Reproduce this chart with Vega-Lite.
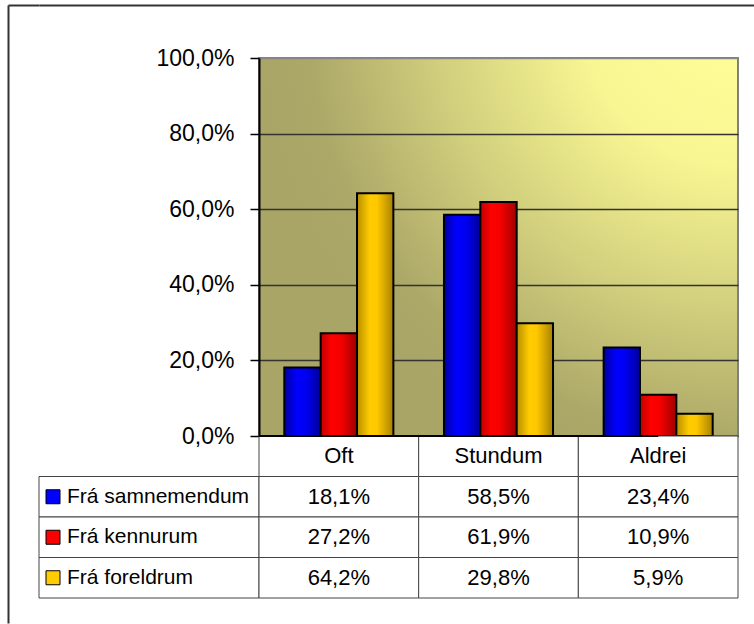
{
  "$schema": "https://vega.github.io/schema/vega-lite/v6.json",
  "background": "white",
  "padding": {"left": 5, "top": 5, "right": 0, "bottom": 0},
  "config": {
    "font": "Liberation Sans, Arial",
    "view": {"stroke": null},
    "locale": {"number": {"decimal": ",", "thousands": ".", "grouping": [3], "currency": ["", " kr."]}}
  },
  "datasets": {
    "d": [
      {"cat": "Oft", "series": "Frá samnemendum", "value": 0.181},
      {"cat": "Oft", "series": "Frá kennurum", "value": 0.272},
      {"cat": "Oft", "series": "Frá foreldrum", "value": 0.642},
      {"cat": "Stundum", "series": "Frá samnemendum", "value": 0.585},
      {"cat": "Stundum", "series": "Frá kennurum", "value": 0.619},
      {"cat": "Stundum", "series": "Frá foreldrum", "value": 0.298},
      {"cat": "Aldrei", "series": "Frá samnemendum", "value": 0.234},
      {"cat": "Aldrei", "series": "Frá kennurum", "value": 0.109},
      {"cat": "Aldrei", "series": "Frá foreldrum", "value": 0.059}
    ],
    "frame": [{"k": 0}]
  },
  "spacing": 0,
  "bounds": "flush",
  "hconcat": [
    {
      "width": 31,
      "height": 618,
      "data": {"name": "frame"},
      "mark": {"type": "point", "opacity": 0},
      "encoding": {
        "x": {"field": "k", "type": "quantitative", "scale": {"domain": [0, 1]},
          "axis": {"orient": "top", "title": null, "labels": false, "ticks": false, "grid": false, "domainColor": "#333333", "domainWidth": 2}},
        "y": {"field": "k", "type": "quantitative", "scale": {"domain": [0, 1]},
          "axis": {"title": null, "labels": false, "ticks": false, "grid": false, "domainColor": "#333333", "domainWidth": 2}}
      }
    },
    {
      "spacing": 0,
      "bounds": "flush",
      "vconcat": [
        {
          "width": 716,
          "height": 53,
          "data": {"name": "frame"},
          "mark": {"type": "point", "opacity": 0},
          "encoding": {
            "x": {"field": "k", "type": "quantitative", "scale": {"domain": [0, 1]},
              "axis": {"orient": "top", "title": null, "labels": false, "ticks": false, "grid": false, "domainColor": "#333333", "domainWidth": 2}}
          }
        },
        {
          "columns": 2,
          "spacing": 0,
          "bounds": "flush",
          "concat": [
            {
              "width": 220,
              "height": 378,
              "data": {"name": "frame"},
              "mark": {"type": "rect", "fill": "white", "opacity": 0}
            },
            {
              "width": 479,
              "height": 378,
              "data": {"name": "d"},
              "view": {
                "stroke": "#808080",
                "strokeWidth": 2,
                "fill": {
                  "gradient": "radial",
                  "x1": 1, "y1": 0, "r1": 0,
                  "x2": 1, "y2": 0, "r2": 1,
                  "stops": [
                    {"offset": 0, "color": "#FFFF99"},
                    {"offset": 0.33, "color": "#F8F692"},
                    {"offset": 0.62, "color": "#D3D07E"},
                    {"offset": 0.9, "color": "#ACA868"},
                    {"offset": 1, "color": "#A9A566"}
                  ]
                }
              },
              "encoding": {
                "x": {
                  "field": "cat", "type": "nominal",
                  "sort": ["Oft", "Stundum", "Aldrei"],
                  "scale": {"paddingInner": 0.317, "paddingOuter": 0.1585},
                  "axis": null
                },
                "xOffset": {
                  "field": "series", "type": "nominal",
                  "scale": {"domain": ["Frá samnemendum", "Frá kennurum", "Frá foreldrum"], "paddingInner": 0, "paddingOuter": 0}
                },
                "y": {
                  "field": "value", "type": "quantitative",
                  "scale": {"domain": [0, 1], "nice": false},
                  "axis": {
                    "title": null,
                    "values": [0, 0.2, 0.4, 0.6, 0.8, 1],
                    "format": ".1%",
                    "labelFontSize": 23,
                    "labelColor": "#000",
                    "labelPadding": 16,
                    "tickSize": 9,
                    "tickColor": "#000",
                    "tickWidth": 1.5,
                    "domainColor": "#000",
                    "domainWidth": 2,
                    "gridColor": {"condition": {"test": "datum.value == 1", "value": "#888888"}, "value": "#333333"},
                    "gridWidth": 1.5
                  }
                }
              },
              "layer": [
                {
                  "transform": [{"filter": "datum.series == 'Frá samnemendum'"}],
                  "mark": {
                    "type": "bar", "stroke": "#000", "strokeWidth": 2,
                    "fill": {"gradient": "linear", "x1": 0, "y1": 0, "x2": 1, "y2": 0,
                      "stops": [{"offset": 0, "color": "#0000A0"}, {"offset": 0.35, "color": "#0000FF"}, {"offset": 0.6, "color": "#0000F0"}, {"offset": 1, "color": "#00009A"}]}
                  }
                },
                {
                  "transform": [{"filter": "datum.series == 'Frá kennurum'"}],
                  "mark": {
                    "type": "bar", "stroke": "#000", "strokeWidth": 2,
                    "fill": {"gradient": "linear", "x1": 0, "y1": 0, "x2": 1, "y2": 0,
                      "stops": [{"offset": 0, "color": "#C00000"}, {"offset": 0.3, "color": "#FF0000"}, {"offset": 0.55, "color": "#F50000"}, {"offset": 1, "color": "#A00000"}]}
                  }
                },
                {
                  "transform": [{"filter": "datum.series == 'Frá foreldrum'"}],
                  "mark": {
                    "type": "bar", "stroke": "#000", "strokeWidth": 2,
                    "fill": {"gradient": "linear", "x1": 0, "y1": 0, "x2": 1, "y2": 0,
                      "stops": [{"offset": 0, "color": "#B88E00"}, {"offset": 0.35, "color": "#FFCC00"}, {"offset": 0.55, "color": "#FFC800"}, {"offset": 1, "color": "#A88200"}]}
                  }
                }
              ]
            },
            {
              "width": 220,
              "height": 162,
              "data": {"name": "d"},
              "transform": [{"filter": "datum.cat == 'Oft'"}],
              "encoding": {
                "y": {
                  "field": "series", "type": "nominal",
                  "scale": {"domain": ["hdr", "Frá samnemendum", "Frá kennurum", "Frá foreldrum"], "paddingInner": 0, "paddingOuter": 0},
                  "axis": null
                }
              },
              "layer": [
                {"mark": {"type": "rect", "fill": "white", "stroke": "#444444", "strokeWidth": 1}},
                {
                  "mark": {"type": "square", "size": 196, "filled": true, "opacity": 1, "stroke": "#000", "strokeWidth": 1},
                  "encoding": {
                    "x": {"value": 14},
                    "fill": {
                      "field": "series", "type": "nominal",
                      "scale": {"domain": ["Frá samnemendum", "Frá kennurum", "Frá foreldrum"], "range": ["#0000FF", "#FF0000", "#FFCC00"]},
                      "legend": null
                    }
                  }
                },
                {
                  "mark": {"type": "text", "align": "left", "fontSize": 21, "color": "#000"},
                  "encoding": {"x": {"value": 28}, "text": {"field": "series"}}
                }
              ]
            },
            {
              "width": 479,
              "height": 162,
              "data": {"name": "d"},
              "encoding": {
                "x": {
                  "field": "cat", "type": "nominal",
                  "sort": ["Oft", "Stundum", "Aldrei"],
                  "scale": {"paddingInner": 0, "paddingOuter": 0},
                  "axis": null
                }
              },
              "layer": [
                {
                  "mark": {"type": "rect", "fill": "white", "stroke": "#444444", "strokeWidth": 1},
                  "encoding": {
                    "y": {"field": "series", "type": "nominal",
                      "scale": {"domain": ["hdr", "Frá samnemendum", "Frá kennurum", "Frá foreldrum"], "paddingInner": 0, "paddingOuter": 0},
                      "axis": null}
                  }
                },
                {
                  "transform": [{"filter": "datum.series == 'Frá samnemendum'"}],
                  "mark": {"type": "rect", "fill": "white", "stroke": "#444444", "strokeWidth": 1},
                  "encoding": {"y": {"datum": "hdr", "type": "nominal"}}
                },
                {
                  "transform": [{"filter": "datum.series == 'Frá samnemendum'"}],
                  "mark": {"type": "rule", "stroke": "#000", "strokeWidth": 2},
                  "encoding": {"y": {"datum": "hdr", "type": "nominal", "bandPosition": 0}}
                },
                {
                  "transform": [{"filter": "datum.series == 'Frá samnemendum'"}],
                  "mark": {"type": "text", "fontSize": 22, "color": "#000"},
                  "encoding": {"y": {"datum": "hdr", "type": "nominal"}, "text": {"field": "cat"}}
                },
                {
                  "mark": {"type": "text", "fontSize": 22, "color": "#000"},
                  "encoding": {
                    "y": {"field": "series", "type": "nominal"},
                    "text": {"field": "value", "type": "quantitative", "format": ".1%"}
                  }
                }
              ]
            }
          ]
        }
      ]
    }
  ]
}
